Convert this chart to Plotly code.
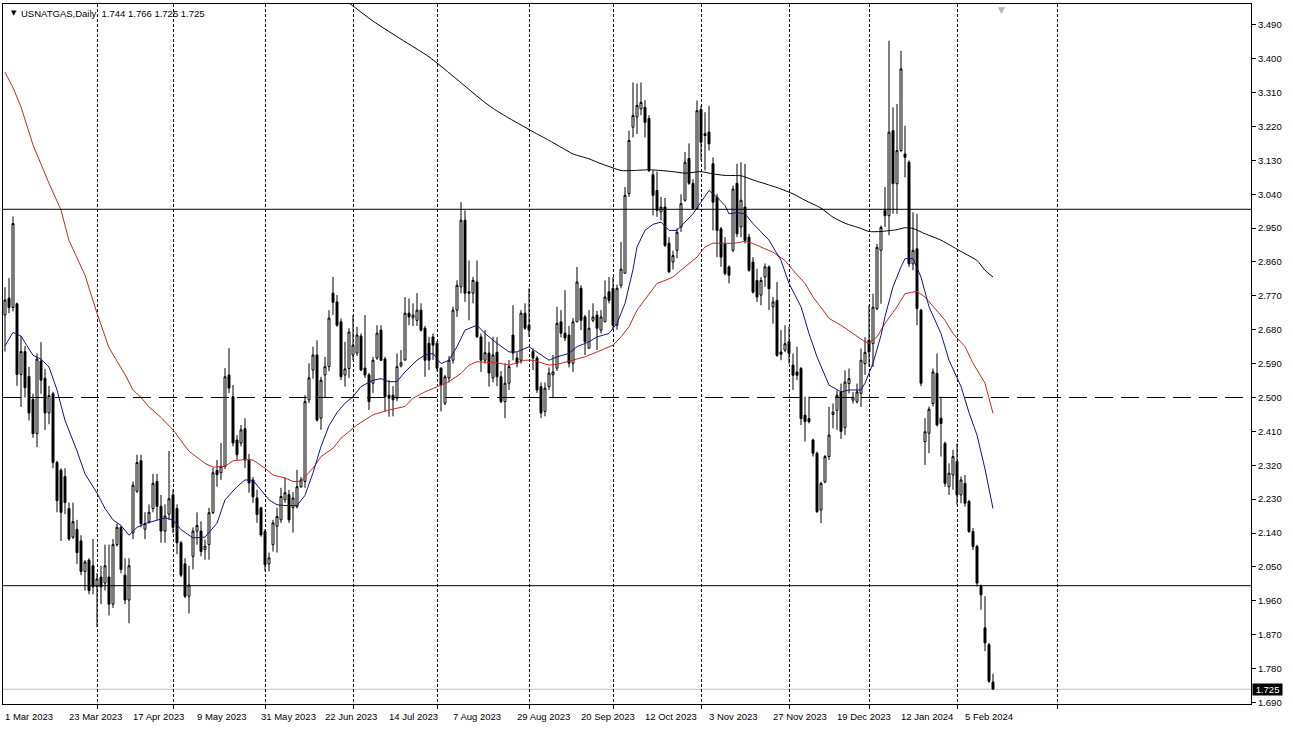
import plotly.graph_objects as go

# ---------------- data ----------------
opens = [
 2.719, 2.764, 2.739, 2.749, 2.561, 2.622, 2.556, 2.495, 2.404, 2.597,
 2.551, 2.459, 2.510, 2.327, 2.307, 2.290, 2.205, 2.129, 2.150, 2.119,
 2.038, 2.068, 2.053, 1.997, 2.023, 2.007, 2.023, 1.951, 2.109, 2.155,
 2.028, 1.962, 2.140, 2.251, 2.332, 2.150, 2.170, 2.205, 2.277, 2.211,
 2.145, 2.190, 2.241, 2.205, 2.114, 2.058, 1.972, 2.078, 2.145, 2.145,
 2.096, 2.109, 2.194, 2.306, 2.300, 2.317, 2.560, 2.502, 2.387, 2.379,
 2.417, 2.334, 2.281, 2.233, 2.207, 2.144, 2.058, 2.109, 2.158, 2.175,
 2.228, 2.242, 2.207, 2.210, 2.263, 2.277, 2.494, 2.573, 2.613, 2.445,
 2.560, 2.582, 2.777, 2.754, 2.701, 2.560, 2.577, 2.613, 2.618, 2.663,
 2.578, 2.560, 2.538, 2.605, 2.679, 2.602, 2.506, 2.506, 2.498, 2.584,
 2.600, 2.724, 2.712, 2.705, 2.732, 2.684, 2.644, 2.661, 2.644, 2.578,
 2.485, 2.552, 2.599, 2.732, 2.794, 2.971, 2.781, 2.777, 2.807, 2.661,
 2.599, 2.618, 2.552, 2.620, 2.555, 2.489, 2.538, 2.666, 2.605, 2.599,
 2.724, 2.692, 2.622, 2.605, 2.529, 2.463, 2.529, 2.560, 2.578, 2.701,
 2.671, 2.666, 2.591, 2.701, 2.790, 2.714, 2.631, 2.705, 2.719, 2.679,
 2.701, 2.781, 2.790, 2.692, 2.798, 2.830, 3.042, 3.218, 3.245, 3.267,
 3.271, 3.241, 3.092, 3.050, 2.993, 3.006, 2.910, 2.860, 2.891, 2.953,
 3.024, 3.135, 3.069, 3.002, 3.265, 3.201, 3.205, 3.121, 3.032, 2.948,
 2.909, 2.847, 2.891, 3.069, 2.953, 3.006, 2.926, 2.860, 2.811, 2.772,
 2.820, 2.847, 2.741, 2.758, 2.621, 2.626, 2.648, 2.586, 2.568, 2.577,
 2.453, 2.444, 2.387, 2.352, 2.201, 2.276, 2.343, 2.455, 2.466, 2.515,
 2.420, 2.537, 2.493, 2.489, 2.511, 2.590, 2.652, 2.643, 2.736, 2.891,
 2.997, 2.983, 3.209, 3.068, 3.156, 3.147, 3.125, 2.855, 2.895, 2.732,
 2.383, 2.405, 2.484, 2.564, 2.445, 2.378, 2.263, 2.294, 2.330, 2.241,
 2.272, 2.224, 2.144, 2.104, 1.998, 1.888, 1.843, 1.744,
]
highs = [
 2.793, 2.817, 2.981, 2.752, 2.663, 2.637, 2.581, 2.510, 2.617, 2.647,
 2.576, 2.531, 2.515, 2.332, 2.312, 2.312, 2.221, 2.221, 2.175, 2.134,
 2.068, 2.073, 2.124, 2.033, 2.053, 2.109, 2.109, 2.124, 2.165, 2.160,
 2.073, 2.073, 2.277, 2.348, 2.348, 2.195, 2.216, 2.297, 2.297, 2.241,
 2.216, 2.358, 2.256, 2.216, 2.119, 2.073, 2.053, 2.155, 2.195, 2.171,
 2.122, 2.207, 2.313, 2.334, 2.379, 2.578, 2.631, 2.533, 2.400, 2.427,
 2.445, 2.350, 2.289, 2.255, 2.210, 2.150, 2.088, 2.175, 2.207, 2.260,
 2.287, 2.255, 2.249, 2.308, 2.289, 2.506, 2.591, 2.635, 2.652, 2.555,
 2.608, 2.732, 2.820, 2.772, 2.710, 2.648, 2.684, 2.719, 2.688, 2.670,
 2.719, 2.565, 2.608, 2.692, 2.692, 2.608, 2.546, 2.530, 2.617, 2.626,
 2.767, 2.763, 2.750, 2.777, 2.750, 2.690, 2.661, 2.670, 2.650, 2.580,
 2.560, 2.610, 2.741, 2.811, 3.019, 2.997, 2.864, 2.820, 2.864, 2.670,
 2.679, 2.648, 2.661, 2.660, 2.570, 2.591, 2.599, 2.745, 2.620, 2.732,
 2.750, 2.790, 2.630, 2.610, 2.540, 2.540, 2.580, 2.613, 2.741, 2.732,
 2.785, 2.690, 2.711, 2.847, 2.798, 2.720, 2.732, 2.750, 2.730, 2.732,
 2.811, 2.820, 2.820, 2.800, 2.913, 3.059, 3.209, 3.337, 3.334, 3.337,
 3.290, 3.250, 3.103, 3.100, 3.033, 3.030, 2.926, 2.890, 2.950, 3.040,
 3.152, 3.175, 3.080, 3.289, 3.275, 3.258, 3.275, 3.138, 3.041, 2.953,
 2.926, 2.851, 3.063, 3.121, 3.125, 3.121, 2.935, 2.873, 2.842, 2.820,
 2.856, 2.851, 2.767, 2.807, 2.679, 2.692, 2.688, 2.617, 2.635, 2.581,
 2.502, 2.502, 2.391, 2.356, 2.276, 2.347, 2.475, 2.484, 2.519, 2.537,
 2.572, 2.577, 2.515, 2.537, 2.630, 2.660, 2.745, 2.776, 2.908, 2.957,
 3.059, 3.448, 3.271, 3.280, 3.421, 3.222, 3.130, 2.992, 2.988, 2.735,
 2.445, 2.476, 2.577, 2.617, 2.502, 2.383, 2.325, 2.361, 2.378, 2.290,
 2.294, 2.228, 2.153, 2.109, 2.003, 1.972, 1.848, 1.766,
]
lows = [
 2.622, 2.724, 2.729, 2.531, 2.475, 2.500, 2.439, 2.393, 2.368, 2.510,
 2.414, 2.429, 2.312, 2.195, 2.119, 2.190, 2.119, 2.124, 2.058, 2.028,
 1.987, 1.977, 1.977, 1.890, 1.951, 1.987, 1.921, 1.941, 2.104, 2.033,
 1.951, 1.900, 2.124, 2.246, 2.155, 2.124, 2.165, 2.195, 2.175, 2.114,
 2.114, 2.175, 2.140, 2.084, 2.023, 1.967, 1.926, 2.043, 2.109, 2.078,
 2.069, 2.069, 2.190, 2.263, 2.281, 2.310, 2.512, 2.370, 2.334, 2.370,
 2.313, 2.247, 2.220, 2.167, 2.130, 2.038, 2.038, 2.091, 2.088, 2.167,
 2.220, 2.167, 2.141, 2.205, 2.260, 2.260, 2.485, 2.550, 2.436, 2.414,
 2.500, 2.570, 2.719, 2.688, 2.546, 2.529, 2.552, 2.599, 2.610, 2.570,
 2.552, 2.467, 2.512, 2.600, 2.597, 2.463, 2.449, 2.450, 2.490, 2.580,
 2.597, 2.692, 2.690, 2.690, 2.675, 2.555, 2.573, 2.600, 2.570, 2.463,
 2.480, 2.540, 2.590, 2.714, 2.777, 2.754, 2.705, 2.750, 2.658, 2.568,
 2.590, 2.529, 2.540, 2.530, 2.485, 2.445, 2.520, 2.599, 2.580, 2.590,
 2.680, 2.661, 2.573, 2.512, 2.445, 2.450, 2.520, 2.498, 2.570, 2.660,
 2.650, 2.580, 2.568, 2.700, 2.679, 2.613, 2.630, 2.700, 2.626, 2.670,
 2.700, 2.750, 2.680, 2.680, 2.790, 2.830, 3.033, 3.191, 3.200, 3.250,
 3.191, 3.099, 2.984, 2.980, 2.971, 2.900, 2.830, 2.840, 2.870, 2.940,
 3.020, 3.065, 3.000, 3.000, 3.130, 3.103, 3.156, 2.944, 2.873, 2.847,
 2.825, 2.803, 2.886, 2.926, 2.926, 2.909, 2.834, 2.776, 2.754, 2.745,
 2.794, 2.732, 2.696, 2.608, 2.599, 2.621, 2.590, 2.520, 2.546, 2.427,
 2.383, 2.431, 2.343, 2.193, 2.166, 2.272, 2.334, 2.418, 2.414, 2.390,
 2.400, 2.511, 2.484, 2.484, 2.475, 2.560, 2.581, 2.581, 2.732, 2.749,
 2.953, 2.931, 2.988, 2.988, 3.152, 3.085, 2.847, 2.838, 2.692, 2.530,
 2.321, 2.352, 2.476, 2.423, 2.343, 2.263, 2.241, 2.255, 2.215, 2.219,
 2.210, 2.140, 2.095, 1.998, 1.936, 1.826, 1.742, 1.725,
]
closes = [
 2.759, 2.739, 2.962, 2.561, 2.622, 2.526, 2.459, 2.404, 2.602, 2.546,
 2.459, 2.505, 2.327, 2.226, 2.195, 2.221, 2.124, 2.170, 2.088, 2.038,
 2.063, 1.987, 1.997, 2.018, 1.997, 2.053, 1.951, 2.109, 2.155, 2.043,
 1.962, 2.053, 2.267, 2.327, 2.165, 2.165, 2.195, 2.272, 2.211, 2.145,
 2.185, 2.231, 2.155, 2.114, 2.028, 1.972, 2.002, 2.145, 2.160, 2.091,
 2.105, 2.194, 2.300, 2.295, 2.317, 2.555, 2.525, 2.379, 2.348, 2.414,
 2.334, 2.273, 2.236, 2.189, 2.135, 2.056, 2.074, 2.167, 2.184, 2.237,
 2.247, 2.175, 2.233, 2.263, 2.281, 2.489, 2.552, 2.613, 2.440, 2.546,
 2.582, 2.711, 2.753, 2.692, 2.555, 2.576, 2.674, 2.639, 2.666, 2.573,
 2.560, 2.489, 2.599, 2.671, 2.599, 2.502, 2.498, 2.494, 2.582, 2.592,
 2.724, 2.714, 2.719, 2.732, 2.679, 2.599, 2.599, 2.639, 2.578, 2.533,
 2.555, 2.599, 2.732, 2.798, 2.971, 2.777, 2.777, 2.811, 2.661, 2.599,
 2.619, 2.565, 2.613, 2.555, 2.489, 2.538, 2.582, 2.618, 2.591, 2.724,
 2.684, 2.679, 2.605, 2.520, 2.459, 2.525, 2.565, 2.568, 2.697, 2.671,
 2.658, 2.591, 2.701, 2.807, 2.705, 2.648, 2.684, 2.714, 2.684, 2.714,
 2.767, 2.758, 2.692, 2.790, 2.841, 3.037, 3.183, 3.249, 3.276, 3.284,
 3.231, 3.103, 3.037, 2.997, 3.006, 2.904, 2.834, 2.877, 2.939, 3.015,
 3.125, 3.069, 3.002, 3.262, 3.178, 3.196, 3.174, 3.019, 2.944, 2.873,
 2.829, 2.825, 3.054, 2.935, 3.024, 2.917, 2.838, 2.780, 2.767, 2.811,
 2.847, 2.789, 2.754, 2.612, 2.615, 2.643, 2.617, 2.559, 2.559, 2.444,
 2.436, 2.436, 2.352, 2.197, 2.272, 2.343, 2.400, 2.461, 2.506, 2.410,
 2.541, 2.550, 2.501, 2.515, 2.599, 2.620, 2.621, 2.740, 2.899, 2.952,
 2.983, 3.205, 3.068, 3.156, 3.373, 3.138, 2.855, 2.891, 2.736, 2.538,
 2.409, 2.469, 2.568, 2.427, 2.431, 2.272, 2.299, 2.343, 2.241, 2.281,
 2.219, 2.144, 2.104, 2.007, 1.976, 1.848, 1.746, 1.725,
]

# moving averages (bar index, value)
ma_fast_idx = [0, 2, 4, 7, 9, 11, 13, 15, 18, 20, 23, 25, 27, 29, 31, 33, 35, 38, 40, 42,
               44, 47, 50, 53, 55, 58, 60, 62, 64, 66, 68, 70, 73, 75, 77, 79, 81, 83, 85, 87,
               89, 92, 94, 96, 98, 100, 103, 105, 107, 109, 111, 113, 115, 118, 120, 123, 126, 128, 131, 133,
               136, 138, 141, 143, 146, 148, 151, 153, 155, 157, 158, 160, 162, 164, 166, 168, 170, 172, 174, 176,
               178, 180, 181, 183, 185, 187, 189, 191, 194, 196, 199, 201, 203, 205, 206, 209, 211, 214, 215, 217,
               219, 220, 222, 224, 225, 227, 229, 231, 234, 236, 239, 241, 243, 245, 247]
ma_fast_val = [2.637, 2.673, 2.663, 2.612, 2.602, 2.581, 2.520, 2.439, 2.358, 2.297, 2.246, 2.205, 2.175, 2.160, 2.134, 2.155, 2.165, 2.175, 2.180, 2.175,
               2.149, 2.127, 2.129, 2.166, 2.228, 2.263, 2.281, 2.280, 2.255, 2.228, 2.215, 2.213, 2.213, 2.240, 2.300, 2.370, 2.425, 2.460, 2.485, 2.502,
               2.529, 2.546, 2.550, 2.542, 2.542, 2.568, 2.599, 2.613, 2.617, 2.590, 2.599, 2.635, 2.679, 2.692, 2.670, 2.644, 2.621, 2.621, 2.635, 2.621,
               2.599, 2.608, 2.617, 2.635, 2.648, 2.661, 2.670, 2.697, 2.750, 2.840, 2.900, 2.944, 2.960, 2.966, 2.944, 2.944, 2.966, 2.988, 3.019, 3.050,
               3.032, 3.010, 2.988, 2.991, 2.988, 2.962, 2.940, 2.918, 2.864, 2.803, 2.741, 2.670, 2.608, 2.560, 2.533, 2.515, 2.520, 2.520, 2.538, 2.591,
               2.665, 2.715, 2.794, 2.847, 2.869, 2.869, 2.820, 2.741, 2.670, 2.599, 2.529, 2.460, 2.400, 2.310, 2.205]

ma_mid_idx = [0, 2, 4, 7, 11, 14, 16, 20, 23, 26, 30, 32, 34, 36, 39, 42, 46, 50, 52, 55,
              57, 60, 62, 65, 67, 70, 72, 74, 75, 77, 79, 82, 84, 88, 92, 96, 100, 102, 105, 108,
              111, 114, 116, 118, 120, 123, 126, 130, 132, 136, 138, 142, 145, 148, 152, 154, 156, 158, 161, 163,
              165, 167, 170, 173, 175, 177, 180, 182, 185, 187, 190, 192, 195, 197, 200, 202, 205, 206, 209, 212,
              215, 216, 218, 220, 223, 225, 228, 230, 232, 235, 237, 240, 242, 245, 247]
ma_mid_val = [3.364, 3.323, 3.272, 3.171, 3.069, 2.998, 2.917, 2.825, 2.724, 2.632, 2.561, 2.520, 2.500, 2.475, 2.447, 2.414, 2.357, 2.325, 2.315, 2.317,
              2.332, 2.335, 2.334, 2.312, 2.294, 2.286, 2.277, 2.277, 2.290, 2.312, 2.343, 2.365, 2.392, 2.427, 2.454, 2.467, 2.476, 2.498, 2.515, 2.529,
              2.542, 2.564, 2.586, 2.595, 2.594, 2.592, 2.586, 2.599, 2.599, 2.586, 2.588, 2.599, 2.608, 2.621, 2.639, 2.661, 2.688, 2.732, 2.776, 2.803,
              2.811, 2.820, 2.847, 2.873, 2.900, 2.910, 2.910, 2.909, 2.915, 2.909, 2.895, 2.886, 2.864, 2.838, 2.803, 2.767, 2.725, 2.710, 2.692, 2.670,
              2.648, 2.644, 2.661, 2.697, 2.741, 2.776, 2.782, 2.767, 2.741, 2.705, 2.670, 2.635, 2.591, 2.538, 2.458]

ma_slow_idx = [84, 92, 99, 106, 113, 119, 122, 126, 129, 132, 136, 139, 142, 146, 149, 152, 154, 157, 161, 164,
               167, 170, 174, 177, 180, 184, 187, 190, 194, 197, 200, 204, 207, 210, 214, 216, 219, 223, 225, 227,
               230, 234, 237, 240, 243, 245, 247]
ma_slow_val = [3.565, 3.500, 3.452, 3.405, 3.345, 3.292, 3.268, 3.242, 3.224, 3.206, 3.183, 3.165, 3.147, 3.134, 3.121, 3.110, 3.103, 3.103, 3.105, 3.103,
               3.100, 3.096, 3.100, 3.094, 3.090, 3.089, 3.078, 3.068, 3.054, 3.041, 3.024, 3.003, 2.979, 2.963, 2.949, 2.941, 2.941, 2.946, 2.951, 2.949,
               2.935, 2.918, 2.900, 2.882, 2.864, 2.838, 2.820]

date_label_idx = [0, 16, 32, 48, 64, 80, 96, 112, 128, 144, 160, 176, 192, 208, 224, 240]
date_labels = ["1 Mar 2023", "23 Mar 2023", "17 Apr 2023", "9 May 2023", "31 May 2023",
               "22 Jun 2023", "14 Jul 2023", "7 Aug 2023", "29 Aug 2023", "20 Sep 2023",
               "12 Oct 2023", "3 Nov 2023", "27 Nov 2023", "19 Dec 2023", "12 Jan 2024",
               "5 Feb 2024"]
month_start_idx = [23, 42, 65, 87, 108, 131, 152, 174, 196, 216, 238, 263]

price_ticks = [1.690, 1.780, 1.870, 1.960, 2.050, 2.140, 2.230, 2.320, 2.410, 2.500,
               2.590, 2.680, 2.770, 2.860, 2.950, 3.040, 3.130, 3.220, 3.310, 3.400, 3.490]
solid_levels = [3.000, 2.000]
dashed_levels = [2.500]
last_price = 1.725
symbol_text = "USNATGAS,Daily"
ohlc_text = "1.744 1.766 1.725 1.725"
shift_marker_idx = 249

FONT = "Liberation Sans"
bars = list(range(len(opens)))

fig = go.Figure()
fig.add_trace(go.Candlestick(
    x=bars, open=opens, high=highs, low=lows, close=closes,
    increasing=dict(line=dict(color="black", width=1), fillcolor="white"),
    decreasing=dict(line=dict(color="black", width=1), fillcolor="black"),
    whiskerwidth=0, hoverinfo="skip", showlegend=False))
fig.add_trace(go.Scatter(x=ma_slow_idx, y=ma_slow_val, mode="lines",
                         line=dict(color="black", width=1, shape="spline", smoothing=0.6),
                         hoverinfo="skip", showlegend=False))
fig.add_trace(go.Scatter(x=ma_mid_idx, y=ma_mid_val, mode="lines",
                         line=dict(color="#c8281e", width=1), hoverinfo="skip", showlegend=False))
fig.add_trace(go.Scatter(x=ma_fast_idx, y=ma_fast_val, mode="lines",
                         line=dict(color="#12127e", width=1), hoverinfo="skip", showlegend=False))

shapes = []
shapes.append(dict(type="line", xref="paper", x0=0, x1=1, yref="y", y0=last_price, y1=last_price,
                   line=dict(color="#c0c0c0", width=1), layer="below"))
for lv in solid_levels:
    shapes.append(dict(type="line", xref="paper", x0=0, x1=1, yref="y", y0=lv, y1=lv,
                       line=dict(color="black", width=1)))
for lv in dashed_levels:
    shapes.append(dict(type="line", xref="paper", x0=0, x1=1, yref="y", y0=lv, y1=lv,
                       line=dict(color="black", width=1, dash="18px,8px")))

annotations = []
for i, t in zip(date_label_idx, date_labels):
    annotations.append(dict(x=i, xref="x", y=0, yref="paper", text=t, showarrow=False,
                            xanchor="left", yanchor="top", yshift=-5, xshift=-2,
                            font=dict(family=FONT, size=9.5, color="black")))
annotations.append(dict(x=0, xref="paper", y=1, yref="paper", text="▼", showarrow=False,
                        xanchor="left", yanchor="top", xshift=6, yshift=-3,
                        font=dict(family="DejaVu Sans", size=7, color="black")))
annotations.append(dict(x=0, xref="paper", y=1, yref="paper",
                        text=symbol_text + "  " + ohlc_text, showarrow=False,
                        xanchor="left", yanchor="top", xshift=16, yshift=-2,
                        font=dict(family=FONT, size=9.5, color="black")))
annotations.append(dict(x=1, xref="paper", y=last_price, yref="y", text=" %.3f " % last_price,
                        showarrow=False, xanchor="left", yanchor="middle", xshift=1,
                        bgcolor="black", borderpad=0,
                        font=dict(family=FONT, size=9.5, color="white")))
annotations.append(dict(x=shift_marker_idx, xref="x", y=1, yref="paper", text="▼", showarrow=False,
                        xanchor="center", yanchor="top", yshift=1,
                        font=dict(family="DejaVu Sans", size=9, color="#b4b4b4")))

fig.update_layout(
    width=1293, height=729,
    margin=dict(l=3, r=42, t=4, b=25, pad=0),
    paper_bgcolor="white", plot_bgcolor="white",
    font=dict(family=FONT, size=9.5, color="black"),
    boxgap=0.3,
    shapes=shapes, annotations=annotations,
    showlegend=False,
    xaxis=dict(range=[-0.5, 311.5], rangeslider=dict(visible=False),
               tickmode="array", tickvals=month_start_idx, showticklabels=False,
               ticks="outside", ticklen=4, tickcolor="black", tickwidth=1,
               showgrid=True, gridcolor="black", gridwidth=1, griddash="3px,2px",
               zeroline=False, showline=True, linecolor="black", linewidth=1, mirror=True,
               fixedrange=True),
    yaxis=dict(range=[1.6857, 3.5454], side="right",
               tickmode="array", tickvals=price_ticks,
               ticktext=["%.3f" % v for v in price_ticks],
               ticks="outside", ticklen=4, tickcolor="black", tickwidth=1,
               tickfont=dict(family=FONT, size=9.5, color="black"),
               showgrid=False, zeroline=False,
               showline=True, linecolor="black", linewidth=1, mirror=True,
               fixedrange=True),
)

fig.write_html("out.html", config={"displayModeBar": False, "staticPlot": True},
               post_script="document.body.style.margin='0px';document.body.style.overflow='hidden';")
